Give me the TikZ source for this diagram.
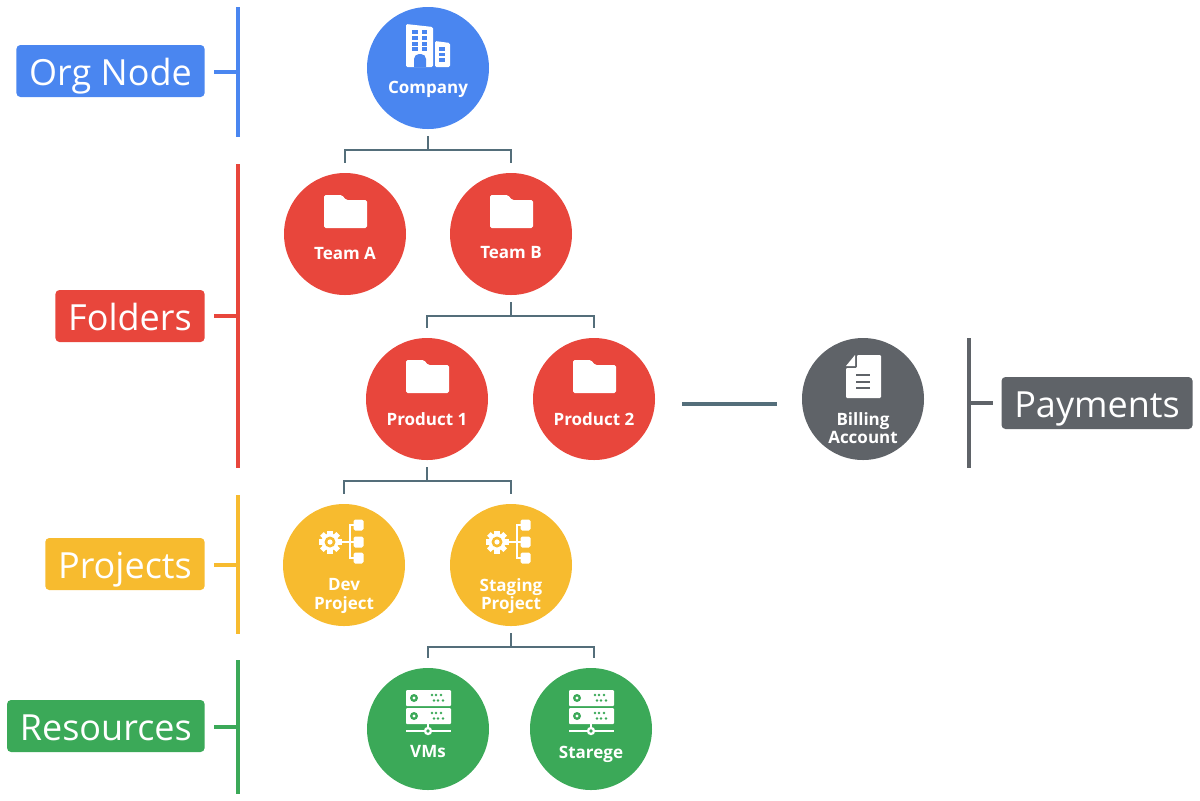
\documentclass[tikz,border=0pt]{standalone}
\usepackage{fontspec}
\setmainfont{Open Sans}
\definecolor{orgblue}{HTML}{4A86F0}
\definecolor{folderred}{HTML}{E8463C}
\definecolor{projyellow}{HTML}{F7BB2F}
\definecolor{resgreen}{HTML}{3BA958}
\definecolor{paygrey}{HTML}{5F6368}
\definecolor{linkgrey}{HTML}{546E7A}
\tikzset{
  circ/.style={circle,minimum size=61pt,inner sep=0pt},
  captext/.style={text=white,font=\fontsize{8.5}{9.2}\selectfont\bfseries,align=center,inner sep=0pt},
  tagbox/.style={anchor=east,rounded corners=2pt,text=white,font=\fontsize{18}{20}\selectfont,
    minimum height=26pt,inner xsep=6.4pt,inner ysep=0pt,text height=14pt,text depth=0pt},
  barline/.style={line width=2.4pt},
  treelink/.style={linkgrey,line width=1pt},
  pics/building/.style={code={
    \fill[white,rounded corners=0.7pt] (-22,-44) -- (5,-41) -- (5,-1) -- (-22,-1) -- cycle;
    \fill[white,rounded corners=0.7pt] (7,-27) -- (22,-25) -- (22,-1) -- (7,-1) -- cycle;
    \fill[orgblue] (-14,-1) [rounded corners=2.5pt] -- (-14,-14) -- (-2,-14) [sharp corners] -- (-2,-1) -- cycle;
    \foreach \wy in {-36,-30,-24,-19} {
      \fill[orgblue] (-16,\wy-1.6) rectangle (-10.5,\wy+1.6);
      \fill[orgblue] (-6.5,\wy-1.6) rectangle (-1,\wy+1.6);
    }
    \foreach \wy in {-19,-13.5,-8}
      \fill[orgblue] (11,\wy-1.6) rectangle (17,\wy+1.6);
  }},
  pics/folder/.style={code={
    \fill[white,rounded corners=0.8pt] (-21,-6) -- (-21,-39) -- (-3,-39) -- (1,-34) -- (22,-34) -- (22,-6) -- cycle;
  }},
  pics/gear/.style={code={
    \fill[white] (-14,-23) circle (8.5);
    \foreach \ga in {0,45,...,315}
      \fill[white,rotate around={\ga:(-14,-23)}] (-16.6,-34.5) rectangle (-11.4,-28);
    \fill[projyellow] (-14,-23) circle (5.5);
    \fill[white] (-14,-23) circle (2.6);
    \draw[white,line width=1pt] (-5,-23) -- (10,-23);
    \draw[white,line width=1pt] (10,-40) -- (6,-40) -- (6,-7) -- (10,-7);
    \foreach \by in {-45.5,-28.5,-12.5}
      \fill[white,rounded corners=0.8pt] (9.5,\by) rectangle (19.5,\by+11);
  }},
  pics/server/.style={code={
    \foreach \ry in {-39,-21} {
      \fill[white,rounded corners=0.5pt] (-22,\ry) rectangle (23,\ry+16);
      \fill[resgreen] (-14,\ry+8) circle (4);
      \fill[white] (-14,\ry+8) circle (1.6);
      \foreach \dx in {4,8,13}
        \fill[resgreen] (\dx,\ry+5) circle (1.4);
      \foreach \dx in {6,10,15}
        \fill[resgreen] (\dx,\ry+10.5) circle (1.4);
    }
    \draw[white,line width=1pt] (-22,2) -- (23,2);
    \draw[white,line width=1pt] (0,-5) -- (0,2);
    \fill[white] (0,2) circle (4.2);
    \fill[resgreen] (0,2) circle (1.8);
  }},
  pics/bill/.style={code={
    \fill[white,rounded corners=0.6pt] (-6,-44) -- (18,-44) -- (18,-1) -- (-17,-1) -- (-17,-31) -- (-6,-31) -- cycle;
    \fill[white] (-17,-33) -- (-8,-33) -- (-8,-44) -- cycle;
    \foreach \ly in {-24,-17,-11}
      \draw[paygrey,line width=1.2pt] (-7,\ly) -- (7,\ly);
  }},
}
\newcommand{\branch}[2]{\draw[treelink] ([yshift=-3.5pt]#1.south) -- ++(0,14) -| ([yshift=5pt]#2.north);}
\begin{document}
\begin{tikzpicture}[x=0.5pt,y=-0.5pt]
\useasboundingbox (0,0) rectangle (1200,800);
% Nodes:
\node[circ,fill=orgblue] (company) at (428,68) {};
\node[circ,fill=folderred] (teamA) at (345,234) {};
\node[circ,fill=folderred] (teamB) at (511,234) {};
\node[circ,fill=folderred] (product1) at (427,399) {};
\node[circ,fill=folderred] (product2) at (594,399) {};
\node[circ,fill=paygrey] (billing) at (863,399) {};
\node[circ,fill=projyellow] (dev) at (344,565) {};
\node[circ,fill=projyellow] (staging) at (511,565) {};
\node[circ,fill=resgreen] (vms) at (428,729) {};
\node[circ,fill=resgreen] (storage) at (591,729) {};
% Icons:
\pic at (company) {building};
\pic at (teamA) {folder};
\pic at (teamB) {folder};
\pic at (product1) {folder};
\pic at (product2) {folder};
\pic at (billing) {bill};
\pic at (dev) {gear};
\pic at (staging) {gear};
\pic at (vms) {server};
\pic at (storage) {server};
% Captions:
\node[captext] (companytxt) at (428,89) {Company};
\node[captext] (teamAtxt) at (345,253) {Team A};
\node[captext] (teamBtxt) at (511,253) {Team B};
\node[captext] (product1txt) at (427,419) {Product 1};
\node[captext] (product2txt) at (594,419) {Product 2};
\node[captext] (billingtxt) at (863,428) {Billing\\Account};
\node[captext] (devtxt) at (344,596) {Dev\\Project};
\node[captext] (stagingtxt) at (511,596) {Staging\\Project};
\node[captext] (vmstxt) at (428,752) {VMs};
\node[captext] (storagetxt) at (591,754) {Starege};
% Tree links:
\branch{company}{teamA}
\branch{company}{teamB}
\branch{teamB}{product1}
\branch{teamB}{product2}
\branch{product1}{dev}
\branch{product1}{staging}
\branch{staging}{vms}
\draw[treelink] ([yshift=-3.5pt]staging.south) -- ++(0,14) -| ([xshift=1.5pt,yshift=5pt]storage.north);
\draw[linkgrey,line width=2pt,shorten <=13.5pt,shorten >=12.5pt] ([yshift=-2.5pt]product2.east) -- ([yshift=-2.5pt]billing.west);
% Side labels:
\node[tagbox,fill=orgblue] (orgtag) at (205,71) {Org Node};
\node[tagbox,fill=folderred] (foldertag) at (205,316) {Folders};
\node[tagbox,fill=projyellow] (projecttag) at (205,564) {Projects};
\node[tagbox,fill=resgreen] (resourcetag) at (205,726) {Resources};
\node[tagbox,fill=paygrey] (paytag) at (1193,403) {Payments};
% Bars:
\coordinate (orgmid) at (238,72);
\coordinate (foldermid) at (238,316);
\coordinate (projectmid) at (238,565);
\coordinate (resourcemid) at (238,727);
\coordinate (paymid) at (969,403);
\draw[barline,orgblue] (238,7) -- (238,137);
\draw[barline,folderred] (238,164) -- (238,468);
\draw[barline,projyellow] (238,495) -- (238,634);
\draw[barline,resgreen] (238,660) -- (238,794);
\draw[barline,paygrey] (969,338) -- (969,468);
\draw[barline,orgblue,shorten >=4.5pt] (orgmid) -- (orgtag.east |- orgmid);
\draw[barline,folderred,shorten >=4.5pt] (foldermid) -- (foldertag.east |- foldermid);
\draw[barline,projyellow,shorten >=4.5pt] (projectmid) -- (projecttag.east |- projectmid);
\draw[barline,resgreen,shorten >=4.5pt] (resourcemid) -- (resourcetag.east |- resourcemid);
\draw[barline,paygrey,shorten >=4pt] (paymid) -- (paytag.west |- paymid);
\end{tikzpicture}
\end{document}
